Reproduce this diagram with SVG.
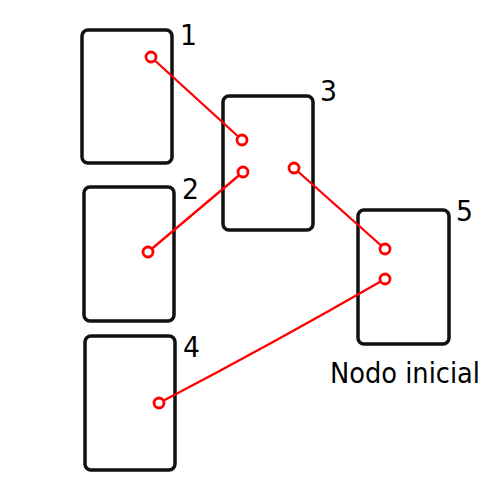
<svg xmlns="http://www.w3.org/2000/svg" width="500" height="500" viewBox="0 0 500 500">
<style>
.box{fill:#fff;stroke:#111;stroke-width:3.5}
.lbl{font-family:"DejaVu Sans",Verdana,sans-serif;font-size:28px;fill:#000}
.con{fill:none;stroke:#f00;stroke-width:2.3}
.pt{fill:#fff;stroke:#f00;stroke-width:2.8}
</style>
<rect width="500" height="500" fill="#fff"/>
<g id="node1"><rect class="box" x="82" y="30" width="90" height="133" rx="6"/><text class="lbl" x="180" y="45" textLength="17" lengthAdjust="spacingAndGlyphs">1</text></g>
<g id="node2"><rect class="box" x="84" y="187" width="90" height="134" rx="6"/><text class="lbl" x="182" y="199" textLength="17" lengthAdjust="spacingAndGlyphs">2</text></g>
<g id="node3"><rect class="box" x="223" y="96" width="90" height="134" rx="6"/><text class="lbl" x="320" y="101" textLength="17" lengthAdjust="spacingAndGlyphs">3</text></g>
<g id="node4"><rect class="box" x="85" y="336" width="90" height="134" rx="6"/><text class="lbl" x="183" y="357" textLength="17" lengthAdjust="spacingAndGlyphs">4</text></g>
<g id="node5"><rect class="box" x="358" y="210" width="91" height="134" rx="6"/><text class="lbl" x="456" y="221" textLength="17" lengthAdjust="spacingAndGlyphs">5</text><text class="lbl" x="330" y="383" textLength="150" lengthAdjust="spacingAndGlyphs">Nodo inicial</text></g>
<g id="connectors">
<line class="con" x1="151" y1="57" x2="242" y2="140"/>
<line class="con" x1="148" y1="252" x2="243" y2="172"/>
<line class="con" x1="294" y1="168" x2="385" y2="249"/>
<path class="con" d="M159,403 Q274,343 385,279"/>
<circle class="pt" cx="151" cy="57" r="5"/>
<circle class="pt" cx="242" cy="140" r="5"/>
<circle class="pt" cx="243" cy="172" r="5"/>
<circle class="pt" cx="148" cy="252" r="5"/>
<circle class="pt" cx="294" cy="168" r="5"/>
<circle class="pt" cx="385" cy="249" r="5"/>
<circle class="pt" cx="385" cy="279" r="5"/>
<circle class="pt" cx="159" cy="403" r="5"/>
</g>
</svg>
